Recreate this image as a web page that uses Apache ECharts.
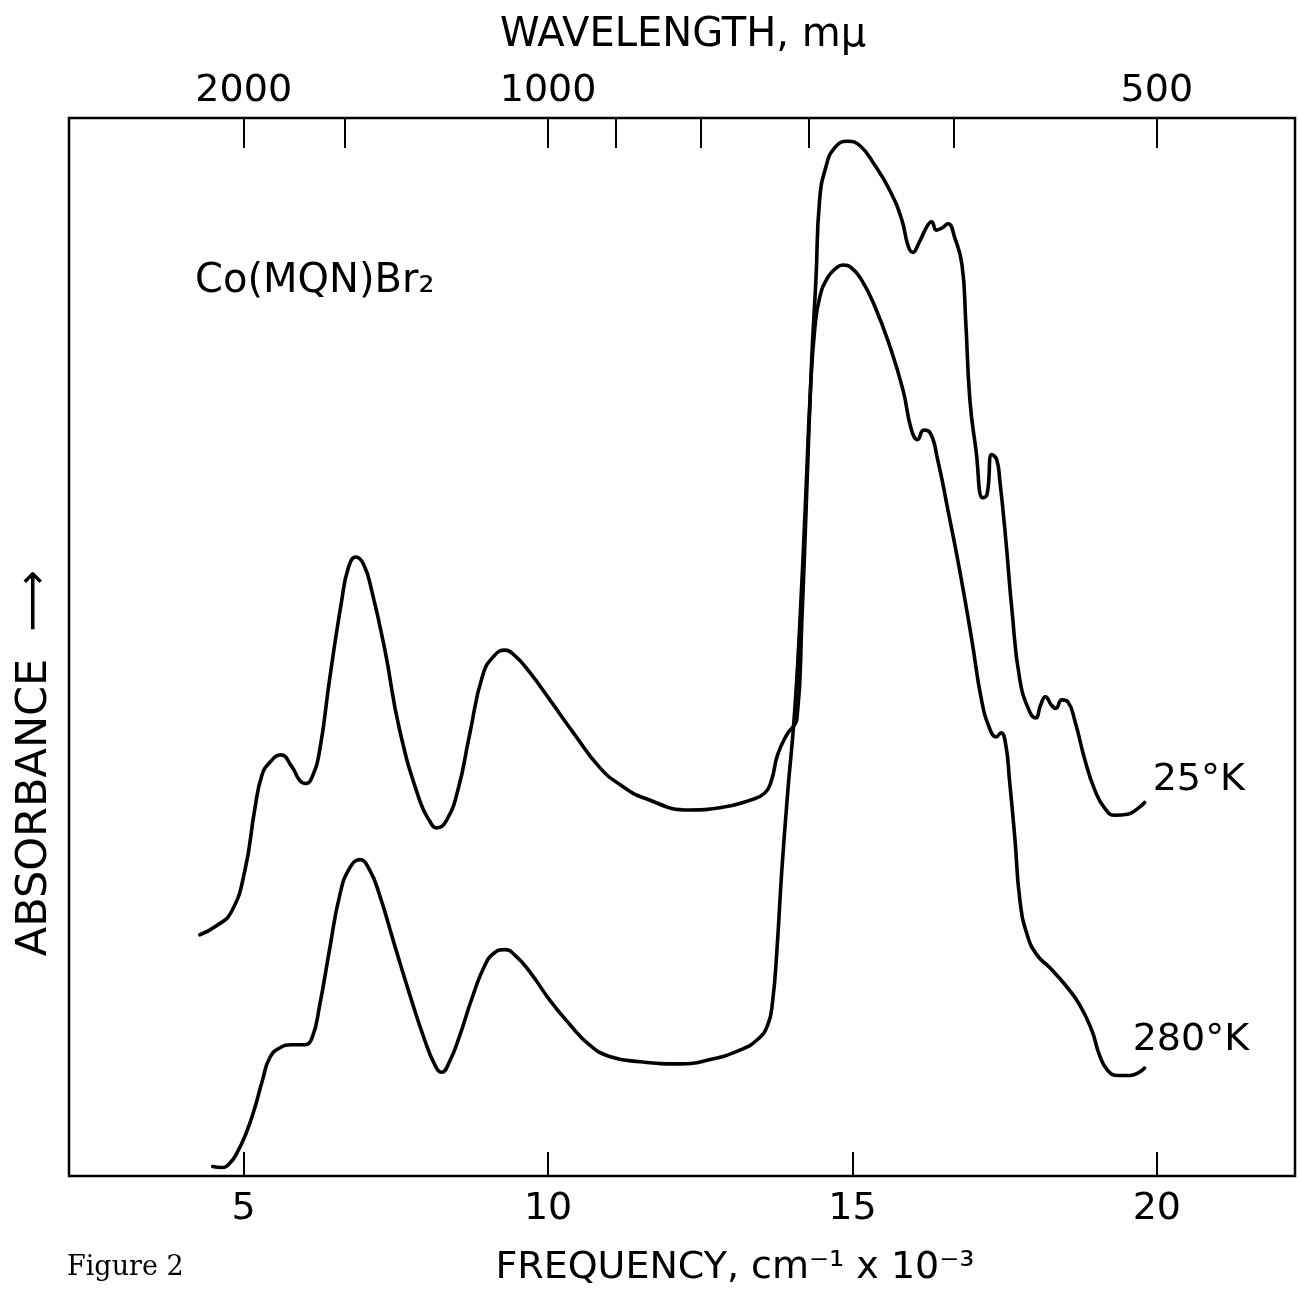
<!DOCTYPE html>
<html>
<head>
<meta charset="utf-8">
<title>Co(MQN)Br2 absorption spectra</title>
<script src="https://cdn.jsdelivr.net/npm/echarts@6/dist/echarts.min.js"></script>
<style>
  html, body { margin: 0; padding: 0; background: #fff; }
  #chart { width: 1299px; height: 1303px; }
</style>
</head>
<body>
<div id="chart"></div>
<script>
// Frequency in units of 10^3 cm^-1, absorbance in arbitrary units
const freq25 = [4.28,4.54,4.80,5.02,5.18,5.30,5.43,5.61,5.79,5.92,6.02,6.13,6.25,6.41,6.61,6.72,6.84,6.97,7.10,7.32,7.56,7.89,8.06,8.17,8.33,8.52,8.71,8.93,9.12,9.29,9.45,9.70,10.03,10.44,10.85,11.18,11.59,12.33,12.82,13.31,13.56,13.67,13.77,13.92,14.09,14.17,14.25,14.33,14.40,14.46,14.56,14.71,14.92,15.12,15.36,15.61,15.81,15.91,15.99,16.10,16.23,16.30,16.38,16.47,16.57,16.68,16.80,16.86,16.93,17.03,17.14,17.21,17.29,17.37,17.42,17.52,17.62,17.75,17.91,18.01,18.09,18.17,18.27,18.34,18.44,18.54,18.65,18.82,18.98,19.14,19.31,19.52,19.68,19.80];
const abs25 = [0.228,0.236,0.250,0.289,0.346,0.379,0.391,0.398,0.387,0.374,0.371,0.378,0.403,0.469,0.544,0.575,0.585,0.578,0.554,0.497,0.422,0.355,0.335,0.329,0.336,0.365,0.417,0.474,0.492,0.497,0.492,0.476,0.450,0.417,0.386,0.370,0.357,0.346,0.348,0.355,0.362,0.374,0.398,0.417,0.433,0.526,0.648,0.771,0.847,0.922,0.953,0.972,0.978,0.974,0.956,0.932,0.904,0.880,0.873,0.883,0.898,0.902,0.894,0.896,0.900,0.887,0.861,0.809,0.733,0.686,0.641,0.644,0.682,0.677,0.658,0.601,0.535,0.469,0.439,0.433,0.445,0.453,0.445,0.442,0.450,0.448,0.431,0.393,0.365,0.348,0.341,0.342,0.347,0.353];

const freq280 = [4.49,4.64,4.77,4.90,5.03,5.18,5.31,5.43,5.59,5.79,5.99,6.12,6.25,6.41,6.58,6.74,6.91,7.07,7.23,7.48,7.73,7.97,8.14,8.25,8.38,8.55,8.75,8.96,9.12,9.29,9.45,9.70,10.03,10.36,10.68,11.01,11.51,12.16,12.66,13.15,13.44,13.61,13.69,13.76,13.84,13.94,14.04,14.13,14.23,14.31,14.38,14.46,14.59,14.73,14.84,14.99,15.15,15.36,15.61,15.83,15.97,16.07,16.17,16.27,16.40,16.57,16.76,16.96,17.12,17.26,17.36,17.44,17.52,17.58,17.67,17.75,17.87,18.03,18.24,18.49,18.73,18.93,19.06,19.19,19.36,19.55,19.80];
const abs280 = [0.009,0.008,0.012,0.023,0.039,0.064,0.091,0.112,0.121,0.124,0.124,0.130,0.162,0.214,0.266,0.291,0.299,0.289,0.266,0.218,0.171,0.129,0.105,0.098,0.108,0.133,0.168,0.199,0.211,0.214,0.209,0.193,0.166,0.143,0.124,0.113,0.108,0.106,0.110,0.119,0.129,0.143,0.166,0.214,0.289,0.365,0.431,0.516,0.639,0.743,0.800,0.830,0.849,0.858,0.861,0.858,0.847,0.823,0.785,0.743,0.705,0.696,0.705,0.703,0.677,0.629,0.573,0.507,0.450,0.422,0.415,0.419,0.407,0.374,0.318,0.261,0.228,0.209,0.197,0.181,0.162,0.138,0.114,0.100,0.095,0.095,0.102];

// Bottom axis ticks (frequency) and top axis ticks (wavelength, mμ)
const freqTicks = [5, 10, 15, 20];
const waveTicks = [2000, 1500, 1000, 900, 800, 700, 600, 500];
const waveLabels = [2000, 1000, 500];

const seriesNames = ['25°K', '280°K'];

const FONT = '"DejaVu Sans", "Liberation Sans", sans-serif';
const toFreq = w => 1e4 / w;   // mμ -> 10^3 cm^-1

const zip = (xs, ys) => xs.map((x, i) => [x, ys[i]]);

const curveStyle = { color: '#000', width: 3.6, cap: 'round', join: 'round' };

const chart = echarts.init(document.getElementById('chart'));

chart.setOption({
  animation: false,
  backgroundColor: '#fff',
  grid: {
    left: 69, right: 4, top: 118, bottom: 127,
    show: true, borderColor: '#000', borderWidth: 2.5,
    backgroundColor: 'transparent'
  },
  xAxis: [
    {
      type: 'value', position: 'bottom', min: 2.13, max: 22.27,
      axisLine: { show: false },
      splitLine: { show: false },
      axisTick: {
        show: true, inside: true, length: 24, customValues: freqTicks,
        lineStyle: { color: '#000', width: 2 }
      },
      axisLabel: {
        customValues: freqTicks, margin: 14,
        color: '#000', fontSize: 38, fontFamily: FONT
      }
    },
    {
      type: 'value', position: 'top', min: 2.13, max: 22.27,
      axisLine: { show: false },
      splitLine: { show: false },
      axisTick: {
        show: true, inside: true, length: 30,
        customValues: waveTicks.map(toFreq),
        lineStyle: { color: '#000', width: 2 }
      },
      axisLabel: {
        customValues: waveLabels.map(toFreq), margin: 8,
        color: '#000', fontSize: 38, fontFamily: FONT,
        formatter: v => String(Math.round(1e4 / v))
      }
    }
  ],
  yAxis: {
    type: 'value', min: 0, max: 1,
    axisLine: { show: false }, axisTick: { show: false },
    axisLabel: { show: false }, splitLine: { show: false }
  },
  series: [
    {
      name: seriesNames[0], type: 'line', xAxisIndex: 0,
      data: zip(freq25, abs25), showSymbol: false, smooth: 0.5,
      lineStyle: curveStyle,
      endLabel: {
        show: true, formatter: '{a}', color: '#000',
        fontSize: 38, fontFamily: FONT, distance: 0, offset: [8, -22]
      }
    },
    {
      name: seriesNames[1], type: 'line', xAxisIndex: 0,
      data: zip(freq280, abs280), showSymbol: false, smooth: 0.5,
      lineStyle: curveStyle,
      endLabel: {
        show: true, formatter: '{a}', color: '#000',
        fontSize: 38, fontFamily: FONT, distance: 0, offset: [-12, -28]
      }
    }
  ],
  graphic: [
    {
      type: 'text', x: 683, y: 36,
      style: { text: 'WAVELENGTH, mμ', fill: '#000', font: '40px ' + FONT,
               textAlign: 'center', textVerticalAlign: 'middle' }
    },
    {
      type: 'text', x: 735, y: 1268,
      style: { text: 'FREQUENCY, cm⁻¹ x 10⁻³', fill: '#000', font: '38px ' + FONT,
               textAlign: 'center', textVerticalAlign: 'middle' }
    },
    {
      type: 'text', x: 35, y: 763, rotation: Math.PI / 2,
      style: { text: 'ABSORBANCE  ⟶', fill: '#000', font: '43px ' + FONT,
               textAlign: 'center', textVerticalAlign: 'middle' }
    },
    {
      type: 'text', x: 195, y: 282,
      style: { text: 'Co(MQN)Br₂', fill: '#000', font: '40px ' + FONT,
               textAlign: 'left', textVerticalAlign: 'middle' }
    },
    {
      type: 'text', x: 67, y: 1268,
      style: { text: 'Figure 2', fill: '#000', font: '27px "DejaVu Serif", "Liberation Serif", serif',
               textAlign: 'left', textVerticalAlign: 'middle' }
    }
  ]
});
</script>
</body>
</html>
